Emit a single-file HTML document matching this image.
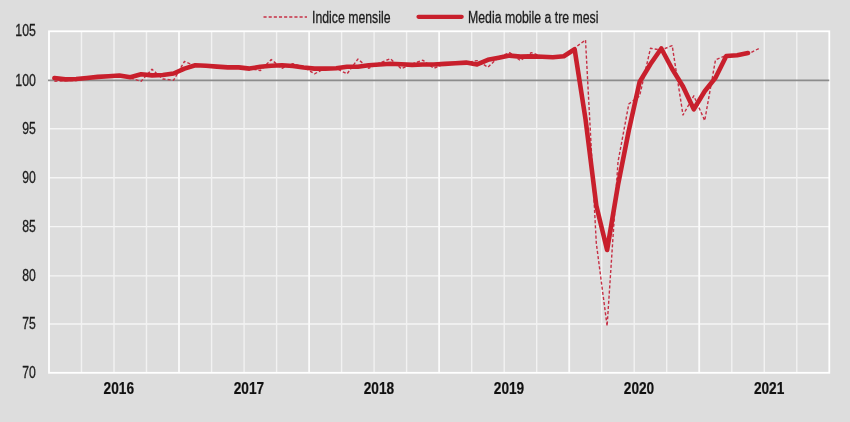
<!DOCTYPE html>
<html lang="it"><head><meta charset="utf-8"><title>Indice mensile e media mobile a tre mesi</title>
<style>html,body{margin:0;padding:0;background:#dddddd;}svg{display:block;}</style></head>
<body>
<svg width="850" height="422" viewBox="0 0 850 422" font-family="'Liberation Sans', sans-serif">
<rect width="850" height="422" fill="#dddddd"/>
<g stroke="#f5f5f5" stroke-width="1.4"><line x1="49.0" x2="829.3" y1="128.7" y2="128.7"/><line x1="49.0" x2="829.3" y1="177.7" y2="177.7"/><line x1="49.0" x2="829.3" y1="226.6" y2="226.6"/><line x1="49.0" x2="829.3" y1="275.9" y2="275.9"/><line x1="49.0" x2="829.3" y1="324.0" y2="324.0"/></g>
<g><line x1="81.5" x2="81.5" y1="31.3" y2="372.8" stroke="#f2f2f2" stroke-width="1.4"/><line x1="114.0" x2="114.0" y1="31.3" y2="372.8" stroke="#f2f2f2" stroke-width="1.4"/><line x1="146.5" x2="146.5" y1="31.3" y2="372.8" stroke="#f2f2f2" stroke-width="1.4"/><line x1="179.0" x2="179.0" y1="31.3" y2="372.8" stroke="#fbfbfb" stroke-width="1.8"/><line x1="211.6" x2="211.6" y1="31.3" y2="372.8" stroke="#f2f2f2" stroke-width="1.4"/><line x1="244.1" x2="244.1" y1="31.3" y2="372.8" stroke="#f2f2f2" stroke-width="1.4"/><line x1="276.6" x2="276.6" y1="31.3" y2="372.8" stroke="#f2f2f2" stroke-width="1.4"/><line x1="309.1" x2="309.1" y1="31.3" y2="372.8" stroke="#fbfbfb" stroke-width="1.8"/><line x1="341.6" x2="341.6" y1="31.3" y2="372.8" stroke="#f2f2f2" stroke-width="1.4"/><line x1="374.1" x2="374.1" y1="31.3" y2="372.8" stroke="#f2f2f2" stroke-width="1.4"/><line x1="406.6" x2="406.6" y1="31.3" y2="372.8" stroke="#f2f2f2" stroke-width="1.4"/><line x1="439.1" x2="439.1" y1="31.3" y2="372.8" stroke="#fbfbfb" stroke-width="1.8"/><line x1="471.7" x2="471.7" y1="31.3" y2="372.8" stroke="#f2f2f2" stroke-width="1.4"/><line x1="504.2" x2="504.2" y1="31.3" y2="372.8" stroke="#f2f2f2" stroke-width="1.4"/><line x1="536.7" x2="536.7" y1="31.3" y2="372.8" stroke="#f2f2f2" stroke-width="1.4"/><line x1="569.2" x2="569.2" y1="31.3" y2="372.8" stroke="#fbfbfb" stroke-width="1.8"/><line x1="601.7" x2="601.7" y1="31.3" y2="372.8" stroke="#f2f2f2" stroke-width="1.4"/><line x1="634.2" x2="634.2" y1="31.3" y2="372.8" stroke="#f2f2f2" stroke-width="1.4"/><line x1="666.7" x2="666.7" y1="31.3" y2="372.8" stroke="#f2f2f2" stroke-width="1.4"/><line x1="699.2" x2="699.2" y1="31.3" y2="372.8" stroke="#fbfbfb" stroke-width="1.8"/><line x1="731.8" x2="731.8" y1="31.3" y2="372.8" stroke="#f2f2f2" stroke-width="1.4"/><line x1="764.3" x2="764.3" y1="31.3" y2="372.8" stroke="#f2f2f2" stroke-width="1.4"/><line x1="796.8" x2="796.8" y1="31.3" y2="372.8" stroke="#f2f2f2" stroke-width="1.4"/></g>
<rect x="49.0" y="31.3" width="780.3" height="341.5" fill="none" stroke="#ffffff" stroke-width="1.8"/>
<line x1="48.0" x2="829.3" y1="80.4" y2="80.4" stroke="#8c8c8c" stroke-width="1.7"/>
<path d="M54.4,81.3 L65.3,80.6 L76.1,80.6 L86.9,78.0 L97.8,77.0 L108.6,76.0 L119.4,75.0 L130.3,78.0 L141.1,81.3 L152.0,69.3 L162.8,79.0 L173.6,80.2 L184.5,61.4 L195.3,66.0 L206.1,66.5 L217.0,67.0 L227.8,67.5 L238.7,67.5 L249.5,68.5 L260.3,70.6 L271.2,59.6 L282.0,68.3 L292.8,63.7 L303.7,67.0 L314.5,73.9 L325.4,68.0 L336.2,68.3 L347.0,73.9 L357.9,59.1 L368.7,68.3 L379.5,63.0 L390.4,58.7 L401.2,68.7 L412.1,64.0 L422.9,60.2 L433.7,68.3 L444.6,64.0 L455.4,63.0 L466.2,62.5 L477.1,60.6 L487.9,67.2 L498.8,57.0 L509.6,52.6 L520.4,60.6 L531.3,52.6 L542.1,56.5 L552.9,57.0 L563.8,55.5 L574.6,48.0 L585.5,40.0 L596.3,243.0 L607.1,326.0 L618.0,162.0 L628.8,104.0 L639.6,96.0 L650.5,48.3 L661.3,50.0 L672.2,45.6 L683.0,115.0 L693.8,95.8 L704.7,120.6 L715.5,59.8 L726.3,55.3 L737.2,55.7 L748.0,54.1 L758.9,48.5" fill="none" stroke="#c62f44" stroke-width="1.4" stroke-dasharray="3.1 2.05" stroke-linejoin="round"/>
<path d="M54.4,78.0 L65.3,79.4 L76.1,79.0 L86.9,78.0 L97.8,76.9 L108.6,76.2 L119.4,75.5 L130.3,77.2 L141.1,74.2 L152.0,75.4 L162.8,75.0 L173.6,73.5 L184.5,68.6 L195.3,65.2 L206.1,65.8 L217.0,66.6 L227.8,67.4 L238.7,67.4 L249.5,68.6 L260.3,66.8 L271.2,65.7 L282.0,65.2 L292.8,66.0 L303.7,67.5 L314.5,68.6 L325.4,68.6 L336.2,68.3 L347.0,66.8 L357.9,66.8 L368.7,65.2 L379.5,64.5 L390.4,63.7 L401.2,64.2 L412.1,64.9 L422.9,64.5 L433.7,64.5 L444.6,63.9 L455.4,63.3 L466.2,62.6 L477.1,64.4 L487.9,59.8 L498.8,57.7 L509.6,55.6 L520.4,56.6 L531.3,56.4 L542.1,56.8 L552.9,57.3 L563.8,56.2 L574.6,49.2 L585.5,119.0 L596.3,205.5 L607.1,250.0 L618.0,185.0 L628.8,130.5 L639.6,82.0 L650.5,64.0 L661.3,48.5 L672.2,69.0 L683.0,86.5 L693.8,109.3 L704.7,91.3 L715.5,77.8 L726.3,56.0 L737.2,55.3 L748.0,53.0" fill="none" stroke="#c81f2c" stroke-width="4.6" stroke-linejoin="round" stroke-linecap="round"/>
<line x1="263.5" x2="307" y1="17" y2="17" stroke="#c62f44" stroke-width="1.4" stroke-dasharray="3.1 2.05"/>
<line x1="418.5" x2="461.7" y1="16.8" y2="16.8" stroke="#c81f2c" stroke-width="4.2" stroke-linecap="round"/>
<text x="312" y="23" font-size="16" fill="#1c1c1c" stroke="#1c1c1c" stroke-width="0.3" textLength="78.5" lengthAdjust="spacingAndGlyphs">Indice mensile</text>
<text x="468" y="23" font-size="16" fill="#1c1c1c" stroke="#1c1c1c" stroke-width="0.3" textLength="130.5" lengthAdjust="spacingAndGlyphs">Media mobile a tre mesi</text>
<text x="15.3" y="36.4" font-size="16.5" fill="#1c1c1c" stroke="#1c1c1c" stroke-width="0.3" textLength="20.6" lengthAdjust="spacingAndGlyphs">105</text>
<text x="15.3" y="85.5" font-size="16.5" fill="#1c1c1c" stroke="#1c1c1c" stroke-width="0.3" textLength="20.6" lengthAdjust="spacingAndGlyphs">100</text>
<text x="22.3" y="133.8" font-size="16.5" fill="#1c1c1c" stroke="#1c1c1c" stroke-width="0.3" textLength="13.6" lengthAdjust="spacingAndGlyphs">95</text>
<text x="22.3" y="182.8" font-size="16.5" fill="#1c1c1c" stroke="#1c1c1c" stroke-width="0.3" textLength="13.6" lengthAdjust="spacingAndGlyphs">90</text>
<text x="22.3" y="231.7" font-size="16.5" fill="#1c1c1c" stroke="#1c1c1c" stroke-width="0.3" textLength="13.6" lengthAdjust="spacingAndGlyphs">85</text>
<text x="22.3" y="281.0" font-size="16.5" fill="#1c1c1c" stroke="#1c1c1c" stroke-width="0.3" textLength="13.6" lengthAdjust="spacingAndGlyphs">80</text>
<text x="22.3" y="329.1" font-size="16.5" fill="#1c1c1c" stroke="#1c1c1c" stroke-width="0.3" textLength="13.6" lengthAdjust="spacingAndGlyphs">75</text>
<text x="22.3" y="378.0" font-size="16.5" fill="#1c1c1c" stroke="#1c1c1c" stroke-width="0.3" textLength="13.6" lengthAdjust="spacingAndGlyphs">70</text>
<text x="103.6" y="393.7" font-size="16" font-weight="bold" fill="#111" stroke="#111" stroke-width="0.2" textLength="30.4" lengthAdjust="spacingAndGlyphs">2016</text>
<text x="233.7" y="393.7" font-size="16" font-weight="bold" fill="#111" stroke="#111" stroke-width="0.2" textLength="30.4" lengthAdjust="spacingAndGlyphs">2017</text>
<text x="363.7" y="393.7" font-size="16" font-weight="bold" fill="#111" stroke="#111" stroke-width="0.2" textLength="30.4" lengthAdjust="spacingAndGlyphs">2018</text>
<text x="493.8" y="393.7" font-size="16" font-weight="bold" fill="#111" stroke="#111" stroke-width="0.2" textLength="30.4" lengthAdjust="spacingAndGlyphs">2019</text>
<text x="623.8" y="393.7" font-size="16" font-weight="bold" fill="#111" stroke="#111" stroke-width="0.2" textLength="30.4" lengthAdjust="spacingAndGlyphs">2020</text>
<text x="753.9" y="393.7" font-size="16" font-weight="bold" fill="#111" stroke="#111" stroke-width="0.2" textLength="30.4" lengthAdjust="spacingAndGlyphs">2021</text>
</svg>
</body></html>
